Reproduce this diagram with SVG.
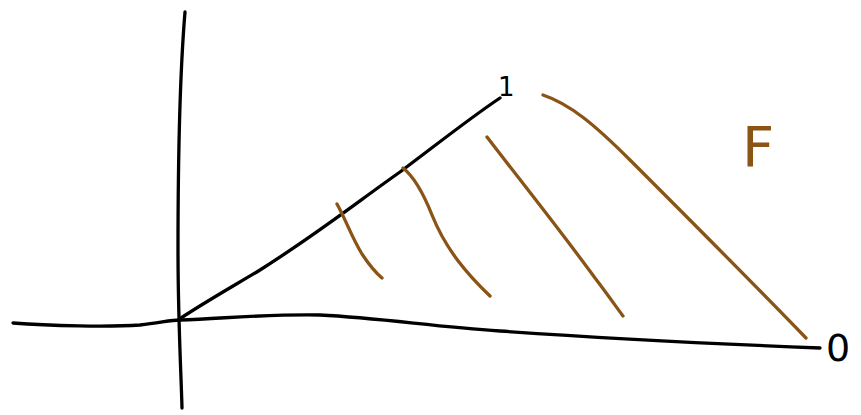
<svg xmlns="http://www.w3.org/2000/svg" width="861" height="415" viewBox="0 0 861 415">
<style>
.k{fill:none;stroke:#000;stroke-width:3.3;stroke-linecap:round;stroke-linejoin:round}
.b{fill:none;stroke:#8a5416;stroke-width:3.3;stroke-linecap:round;stroke-linejoin:round}
.t{font-family:"DejaVu Sans","Liberation Sans",sans-serif}
</style>
<rect width="861" height="415" fill="#fff"/>
<g id="axes">
<path class="k" d="M185,12 C181,60 178,150 178,250 C178,320 181,370 182,408"/>
<path class="k" d="M13,323 C50,326 110,327 140,325 C160,323 170,320 180,320 C230,318 270,314 320,315 C380,318 430,326 500,331 C600,338 720,344 820,348"/>
</g>
<g id="diagonal">
<path class="k" d="M178,320 C200,305 230,288 260,270 C320,232 360,200 400,172 C440,142 470,118 500,98"/>
</g>
<g id="hatch">
<path class="b" d="M337,204 C345,218 352,238 362,254 C370,266 376,273 382,278"/>
<path class="b" d="M403,168 C412,175 422,190 432,215 C446,250 468,275 490,296"/>
<path class="b" d="M487,137 C520,180 560,230 595,278 C608,295 617,308 623,316"/>
<path class="b" d="M543,95 C570,104 595,125 630,160 C690,220 750,280 806,338"/>
</g>
<g id="labels">
<text class="t" x="498" y="96" font-size="26" fill="#000">1</text>
<text class="t" x="826" y="361" font-size="38" fill="#000">0</text>
<text class="t" x="742" y="166" font-size="56" fill="#8a5416">F</text>
</g>
</svg>
